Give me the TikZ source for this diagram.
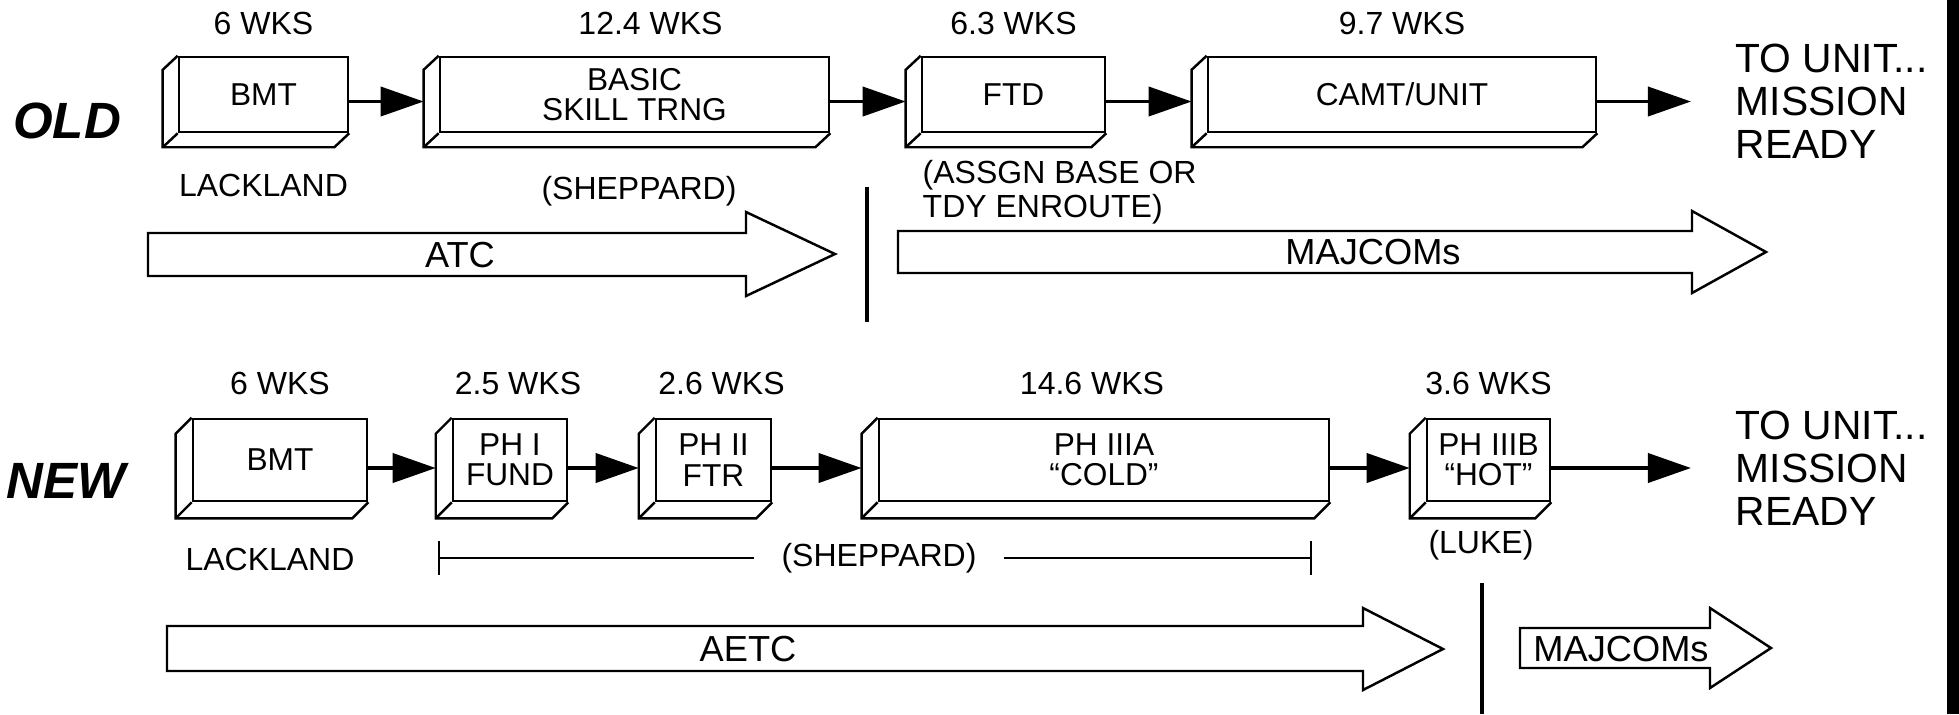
\documentclass[tikz,border=0pt]{standalone}
\usepackage{fontspec}
\setmainfont{Liberation Sans}
\usetikzlibrary{positioning,arrows.meta,calc}
\newcommand{\boxfont}{\fontsize{9}{8.6}\selectfont}
\newcommand{\notefont}{\fontsize{9.1}{9.7}\selectfont}
\newcommand{\bandfont}{\fontsize{10.3}{12}\selectfont}
\newcommand{\goalfont}{\fontsize{11.6}{12.2}\selectfont}
\newcommand{\erafont}{\fontsize{14.5}{16}\selectfont\bfseries\itshape}
\tikzset{
  slab/.style    = {draw, line width=0.7pt, fill=white, align=center, inner sep=0pt, font=\boxfont},
  rim/.style     = {line width=0.7pt},
  flow/.style    = {-{Triangle[length=4.3mm,width=2.9mm]}, line width=1.1pt},
  wk/.style      = {inner sep=0pt, font=\notefont},
  band/.style    = {draw, line width=0.7pt},
  bandtext/.style= {inner sep=0pt, font=\bandfont},
  goal/.style    = {align=left, inner ysep=0pt, inner xsep=4.4mm, font=\goalfont},
  era/.style     = {inner sep=0pt, font=\erafont},
  bracket/.style = {line width=0.6pt},
  divider/.style = {line width=0.9pt},
}

\begin{document}
\begin{tikzpicture}[x=0.01cm, y=-0.01cm]
  \useasboundingbox (0,0) rectangle (1959,714);

  \node[era] (old) at (67,121) {OLD};
  \node[era] (new) at (66,481) {NEW};

  \node[slab, minimum width=1.69cm, minimum height=0.75cm] (bmtOld) at (263.5,94.5) {BMT};
  \node[slab, minimum width=3.89cm, minimum height=0.75cm] (basicOld) at (634.5,94.5) {BASIC\\SKILL TRNG};
  \node[slab, minimum width=1.83cm, minimum height=0.75cm] (ftdOld) at (1013.5,94.5) {FTD};
  \node[slab, minimum width=3.88cm, minimum height=0.75cm] (camtOld) at (1402,94.5) {CAMT/UNIT};
  \node[goal, anchor=west] (unitOld) at (1691,101.5) {TO UNIT...\\MISSION\\READY};

  \node[wk, above=2mm of bmtOld] (wkBmtOld) {6 WKS};
  \node[wk, above=2mm of basicOld, xshift=1.6mm] (wkBasicOld) {12.4 WKS};
  \node[wk, above=2mm of ftdOld] (wkFtdOld) {6.3 WKS};
  \node[wk, above=2mm of camtOld] (wkCamtOld) {9.7 WKS};
  \node[wk, below=4mm of bmtOld] (lackOld) {LACKLAND};
  \node[wk] (shepOld) at (639,191) {(SHEPPARD)};
  \node[wk, anchor=west, align=left] (assgn) at (922,192) {(ASSGN BASE OR\\TDY ENROUTE)};

  \foreach \n in {bmtOld,basicOld,ftdOld,camtOld}{
    \draw[rim] (\n.north west) -- ++(-15,14) |- ($(\n.south east)+(-15,14)$) -- (\n.south east);
    \draw[rim] (\n.south west) -- ++(-15,14);
  }
  \foreach \a/\b in {bmtOld/basicOld,basicOld/ftdOld,ftdOld/camtOld}
    \draw[flow] ($(\a.east)+(0,7)$) -- ($(\b.west)+(-15,7)$);
  \draw[flow] ($(camtOld.east)+(0,7)$) -- (unitOld.west);

  \draw[band] (148,233) -- (746,233) -- (746,212) -- (835,254) -- (746,296) -- (746,276) -- (148,276) -- cycle;
  \node[bandtext] (atc) at (460,255) {ATC};
  \draw[divider] (867,187) -- (867,322);
  \draw[band] (898,231) -- (1692,231) -- (1692,211) -- (1766,252) -- (1692,293) -- (1692,273) -- (898,273) -- cycle;
  \node[bandtext] (majOld) at (1373,252) {MAJCOMs};

  \node[slab, minimum width=1.74cm, minimum height=0.82cm] (bmtNew) at (280,460) {BMT};
  \node[slab, minimum width=1.14cm, minimum height=0.82cm] (ph1) at (510,460) {PH I\\FUND};
  \node[slab, minimum width=1.15cm, minimum height=0.82cm] (ph2) at (713.5,460) {PH II\\FTR};
  \node[slab, minimum width=4.50cm, minimum height=0.82cm] (ph3a) at (1104,460) {PH IIIA\\“COLD”};
  \node[slab, minimum width=1.23cm, minimum height=0.82cm] (ph3b) at (1488.5,460) {PH IIIB\\“HOT”};
  \node[goal, anchor=west] (unitNew) at (1691,468) {TO UNIT...\\MISSION\\READY};

  \node[wk, above=2.2mm of bmtNew] (wkBmtNew) {6 WKS};
  \node[wk, above=2.2mm of ph1, xshift=0.8mm] (wkPh1) {2.5 WKS};
  \node[wk, above=2.2mm of ph2, xshift=0.8mm] (wkPh2) {2.6 WKS};
  \node[wk, above=2.2mm of ph3a, xshift=-1.2mm] (wkPh3a) {14.6 WKS};
  \node[wk, above=2.2mm of ph3b] (wkPh3b) {3.6 WKS};
  \node[wk, below=4.5mm of bmtNew, xshift=-1mm] (lackNew) {LACKLAND};
  \node[wk] (luke) at (1481,545) {(LUKE)};

  \foreach \n in {bmtNew,ph1,ph2,ph3a,ph3b}{
    \draw[rim] (\n.north west) -- ++(-16,16) |- ($(\n.south east)+(-16,16)$) -- (\n.south east);
    \draw[rim] (\n.south west) -- ++(-16,16);
  }
  \foreach \a/\b in {bmtNew/ph1,ph1/ph2,ph2/ph3a,ph3a/ph3b}
    \draw[flow] ($(\a.east)+(0,8)$) -- ($(\b.west)+(-16,8)$);
  \draw[flow] ($(ph3b.east)+(0,8)$) -- (unitNew.west);

  \node[wk, inner xsep=2.7mm] (shepNew) at (879,558) {(SHEPPARD)};
  \coordinate (shepL) at (438,558);
  \coordinate (shepR) at (1312,558);
  \draw[bracket, {Bar[width=3.4mm]}-] (shepL) -- (shepNew);
  \draw[bracket, -{Bar[width=3.4mm]}] (shepNew) -- (shepR);

  \draw[band] (167,626) -- (1363,626) -- (1363,608) -- (1443,649) -- (1363,690) -- (1363,671) -- (167,671) -- cycle;
  \node[bandtext] (aetc) at (748,649) {AETC};
  \draw[divider] (1482,583) -- (1482,714);
  \draw[band] (1520,628) -- (1710,628) -- (1710,608) -- (1771,648) -- (1710,688) -- (1710,668) -- (1520,668) -- cycle;
  \node[bandtext] (majNew) at (1621,649) {MAJCOMs};

  \fill (1947,0) rectangle (1959,714);
\end{tikzpicture}
\end{document}
